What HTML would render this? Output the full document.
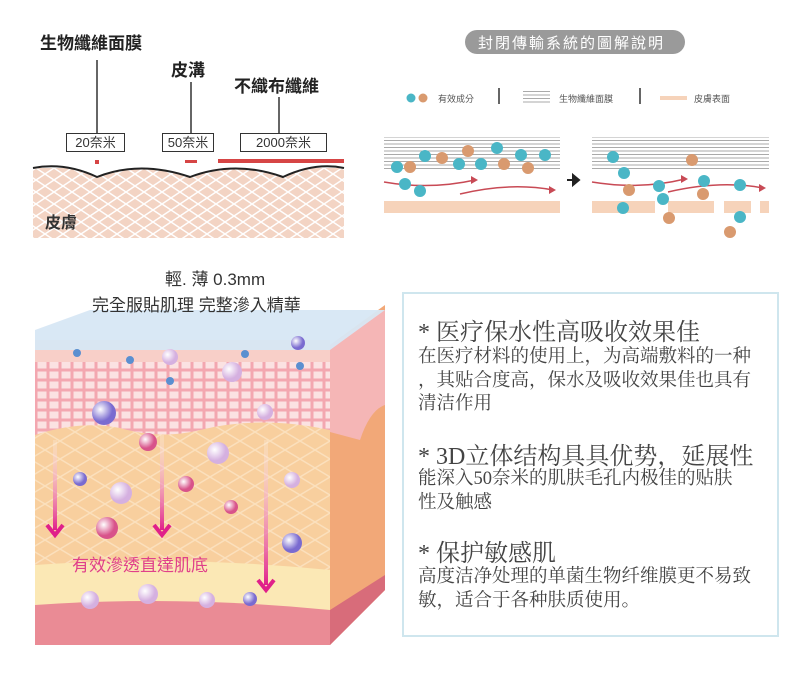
<!DOCTYPE html>
<html><head><meta charset="utf-8"><style>
body{margin:0;width:800px;height:674px;background:#fff;position:relative;overflow:hidden;font-family:"Liberation Sans","Noto Sans CJK TC",sans-serif}
.a{position:absolute;white-space:nowrap}
.box{position:absolute;border:1.5px solid #333;font-size:13px;color:#333;text-align:center;height:17px;line-height:17px;background:#fff}
.s{font-family:"Liberation Serif","Noto Serif CJK SC",serif;color:#444}
</style></head><body>
<svg width="800" height="674" style="position:absolute;left:0;top:0">
<defs>
<pattern id="hx" width="18" height="12" patternUnits="userSpaceOnUse"><rect width="18" height="12" fill="#f3d4c4"/><path d="M0 0L18 12M18 0L0 12" stroke="#fff" stroke-width="1.5"/></pattern>
<pattern id="st" width="10" height="3.5" patternUnits="userSpaceOnUse"><rect width="10" height="3.5" fill="#fff"/><rect width="10" height="1" fill="#aaa"/></pattern>
<pattern id="cell" width="12" height="10" patternUnits="userSpaceOnUse"><rect width="12" height="10" fill="#f3a7b0"/><rect x="1.5" y="1.5" width="9" height="7" fill="#fbe2e2"/></pattern>
<pattern id="der" width="30" height="18" patternUnits="userSpaceOnUse"><rect width="30" height="18" fill="#f8cf9e"/><path d="M0 9L15 0L30 9L15 18Z" fill="none" stroke="#fbe0bd" stroke-width="1.5"/></pattern>
<radialGradient id="b1" cx="0.35" cy="0.35"><stop offset="0" stop-color="#fff"/><stop offset="1" stop-color="#7a6bd0"/></radialGradient>
<radialGradient id="b2" cx="0.35" cy="0.35"><stop offset="0" stop-color="#fff"/><stop offset="1" stop-color="#d8538a"/></radialGradient>
<radialGradient id="b3" cx="0.35" cy="0.35"><stop offset="0" stop-color="#fff"/><stop offset="1" stop-color="#d5b0e0"/></radialGradient>
<linearGradient id="ar" x1="0" y1="0" x2="0" y2="1"><stop offset="0" stop-color="#fff" stop-opacity="0.2"/><stop offset="1" stop-color="#e0208a"/></linearGradient>
</defs>
<!-- top-left -->
<rect x="33" y="168" width="311" height="70" fill="url(#hx)"/>
<path d="M33 168 Q65 162 97 177 Q140 160 190 177 Q235 160 283 177 Q315 162 344 168" fill="#fff"/>
<path d="M33 168 Q65 162 97 177 Q140 160 190 177 Q235 160 283 177 Q315 162 344 168" fill="none" stroke="#222" stroke-width="2"/>
<line x1="97" y1="60" x2="97" y2="133" stroke="#333" stroke-width="1.5"/>
<line x1="191" y1="82" x2="191" y2="133" stroke="#333" stroke-width="1.5"/>
<line x1="279" y1="97" x2="279" y2="133" stroke="#333" stroke-width="1.5"/>
<rect x="95" y="160" width="4" height="4" fill="#d64545"/>
<rect x="185" y="160" width="12" height="3" fill="#d64545"/>
<rect x="218" y="159" width="126" height="4" fill="#d64545"/>
<!-- top-right -->
<rect x="465" y="30" width="220" height="24" rx="12" fill="#9a9a9a"/>
<circle cx="411" cy="98" r="4.5" fill="#4ab6c6"/><circle cx="423" cy="98" r="4.5" fill="#d99a6f"/>
<rect x="498" y="88" width="2" height="16" fill="#666"/><rect x="639" y="88" width="2" height="16" fill="#666"/>
<rect x="523" y="91" width="27" height="12" fill="url(#st)"/>
<rect x="660" y="96" width="27" height="4" fill="#f6d3ba"/>
<rect x="384" y="137" width="176" height="34" fill="url(#st)"/>
<rect x="384" y="201" width="176" height="12" fill="#f6d3ba"/>
<rect x="592" y="137" width="177" height="34" fill="url(#st)"/>
<rect x="592" y="201" width="63" height="12" fill="#f6d3ba"/><rect x="668" y="201" width="46" height="12" fill="#f6d3ba"/><rect x="724" y="201" width="27" height="12" fill="#f6d3ba"/><rect x="760" y="201" width="9" height="12" fill="#f6d3ba"/>
<g fill="none" stroke="#c84a55" stroke-width="1.5">
<path d="M384 182 Q430 190 475 180"/><path d="M460 194 Q510 182 553 190"/>
<path d="M592 182 Q640 190 685 179"/><path d="M668 192 Q720 180 763 188"/></g>
<g fill="#c84a55"><path d="M478 180l-7-4v8z"/><path d="M556 190l-7-4v8z"/><path d="M688 179l-7-4v8z"/><path d="M766 188l-7-4v8z"/></g>
<path d="M567 180h10M573 175l6 5-6 5z" stroke="#222" stroke-width="2" fill="#222"/>
<g fill="#4ab6c6"><circle cx="397" cy="167" r="6"/><circle cx="425" cy="156" r="6"/><circle cx="459" cy="164" r="6"/><circle cx="481" cy="164" r="6"/><circle cx="497" cy="148" r="6"/><circle cx="521" cy="155" r="6"/><circle cx="545" cy="155" r="6"/><circle cx="405" cy="184" r="6"/><circle cx="420" cy="191" r="6"/>
<circle cx="613" cy="157" r="6"/><circle cx="624" cy="173" r="6"/><circle cx="659" cy="186" r="6"/><circle cx="663" cy="199" r="6"/><circle cx="623" cy="208" r="6"/><circle cx="704" cy="181" r="6"/><circle cx="740" cy="185" r="6"/><circle cx="740" cy="217" r="6"/></g>
<g fill="#d99a6f"><circle cx="410" cy="167" r="6"/><circle cx="442" cy="158" r="6"/><circle cx="468" cy="151" r="6"/><circle cx="504" cy="164" r="6"/><circle cx="528" cy="168" r="6"/>
<circle cx="692" cy="160" r="6"/><circle cx="629" cy="190" r="6"/><circle cx="703" cy="194" r="6"/><circle cx="669" cy="218" r="6"/><circle cx="730" cy="232" r="6"/></g>
<!-- skin cube -->
<path d="M35 345 L330 345 L330 645 L35 645Z" fill="#f7b58c"/>
<path d="M330 345 L385 305 L385 590 L330 645Z" fill="#f2a878"/>
<path d="M330 345 L385 310 L385 405 Q370 410 360 440 L330 432Z" fill="#f5b6b6"/>
<rect x="35" y="345" width="295" height="90" fill="url(#cell)"/>
<rect x="35" y="340" width="295" height="22" fill="#f8cfc8"/>
<path d="M35 350 L35 330 L90 310 L385 310 L330 350Z" fill="#d7e7f4" opacity="0.95"/>
<path d="M35 435 Q80 420 120 428 Q160 440 200 430 Q260 415 330 430 L330 580 L35 580Z" fill="url(#der)"/>
<path d="M35 565 Q180 555 330 570 L330 610 L35 610Z" fill="#fbe8b5"/>
<path d="M35 605 Q180 595 330 610 L330 645 L35 645Z" fill="#ea8b95"/>
<path d="M330 610 L385 575 L385 590 L330 645Z" fill="#d86c7a"/>
<rect x="53" y="440" width="4" height="90" fill="url(#ar)"/>
<rect x="160" y="435" width="4" height="95" fill="url(#ar)"/>
<rect x="264" y="440" width="4" height="145" fill="url(#ar)"/>
<g fill="none" stroke="#e0208a" stroke-width="4"><path d="M47 525l8 10 8-10"/><path d="M154 525l8 10 8-10"/><path d="M258 580l8 10 8-10"/></g>
<g><circle cx="104" cy="413" r="12" fill="url(#b1)"/><circle cx="148" cy="442" r="9" fill="url(#b2)"/><circle cx="218" cy="453" r="11" fill="url(#b3)"/><circle cx="80" cy="479" r="7" fill="url(#b1)"/><circle cx="121" cy="493" r="11" fill="url(#b3)"/><circle cx="186" cy="484" r="8" fill="url(#b2)"/><circle cx="231" cy="507" r="7" fill="url(#b2)"/><circle cx="107" cy="528" r="11" fill="url(#b2)"/><circle cx="292" cy="480" r="8" fill="url(#b3)"/><circle cx="292" cy="543" r="10" fill="url(#b1)"/><circle cx="90" cy="600" r="9" fill="url(#b3)"/><circle cx="148" cy="594" r="10" fill="url(#b3)"/><circle cx="207" cy="600" r="8" fill="url(#b3)"/><circle cx="250" cy="599" r="7" fill="url(#b1)"/><circle cx="232" cy="372" r="10" fill="url(#b3)"/><circle cx="170" cy="357" r="8" fill="url(#b3)"/><circle cx="265" cy="412" r="8" fill="url(#b3)"/><circle cx="298" cy="343" r="7" fill="url(#b1)"/></g>
<g fill="#5b8fd0"><circle cx="77" cy="353" r="4"/><circle cx="130" cy="360" r="4"/><circle cx="170" cy="381" r="4"/><circle cx="245" cy="354" r="4"/><circle cx="300" cy="366" r="4"/></g>
<rect x="403" y="293" width="375" height="343" fill="none" stroke="#cfe6ee" stroke-width="2"/>
</svg>
<div class="a" style="left:40px;top:29px;font-size:17px;font-weight:bold;color:#222">生物纖維面膜</div>
<div class="a" style="left:171px;top:56px;font-size:17px;font-weight:bold;color:#222">皮溝</div>
<div class="a" style="left:234px;top:72px;font-size:17px;font-weight:bold;color:#222">不織布纖維</div>
<div class="box" style="left:66px;top:133px;width:57px">20奈米</div>
<div class="box" style="left:162px;top:133px;width:50px">50奈米</div>
<div class="box" style="left:240px;top:133px;width:85px">2000奈米</div>
<div class="a" style="left:45px;top:209px;font-size:16px;font-weight:bold;color:#333">皮膚</div>
<div class="a" style="left:478px;top:32px;font-size:15px;color:#fff;letter-spacing:2px">封閉傳輸系統的圖解說明</div>
<div class="a" style="left:438px;top:92px;font-size:9px;color:#555">有效成分</div>
<div class="a" style="left:559px;top:92px;font-size:9px;color:#555">生物纖維面膜</div>
<div class="a" style="left:694px;top:92px;font-size:9px;color:#555">皮膚表面</div>
<div class="a" style="left:165px;top:265px;font-size:17px;color:#333">輕. 薄 0.3mm</div>
<div class="a" style="left:92px;top:291px;font-size:17px;color:#333">完全服貼肌理 完整滲入精華</div>
<div class="a" style="left:72px;top:551px;font-size:17px;color:#e0408a">有效滲透直達肌底</div>
<div class="a s" style="left:418px;top:318px;font-size:24px;line-height:30px">* 医疗保水性高吸收效果佳</div>
<div class="a s" style="left:418px;top:346px;font-size:18.5px;line-height:23.5px">在医疗材料的使用上，为高端敷料的一种<br>，其贴合度高，保水及吸收效果佳也具有<br>清洁作用</div>
<div class="a s" style="left:418px;top:442px;font-size:24px;line-height:30px">* 3D立体结构具具优势，延展性</div>
<div class="a s" style="left:418px;top:468px;font-size:18.5px;line-height:23.5px">能深入50奈米的肌肤毛孔内极佳的贴肤<br>性及触感</div>
<div class="a s" style="left:418px;top:539px;font-size:24px;line-height:30px">* 保护敏感肌</div>
<div class="a s" style="left:418px;top:566px;font-size:18.5px;line-height:23.5px">高度洁净处理的单菌生物纤维膜更不易致<br>敏，适合于各种肤质使用。</div>
</body></html>
